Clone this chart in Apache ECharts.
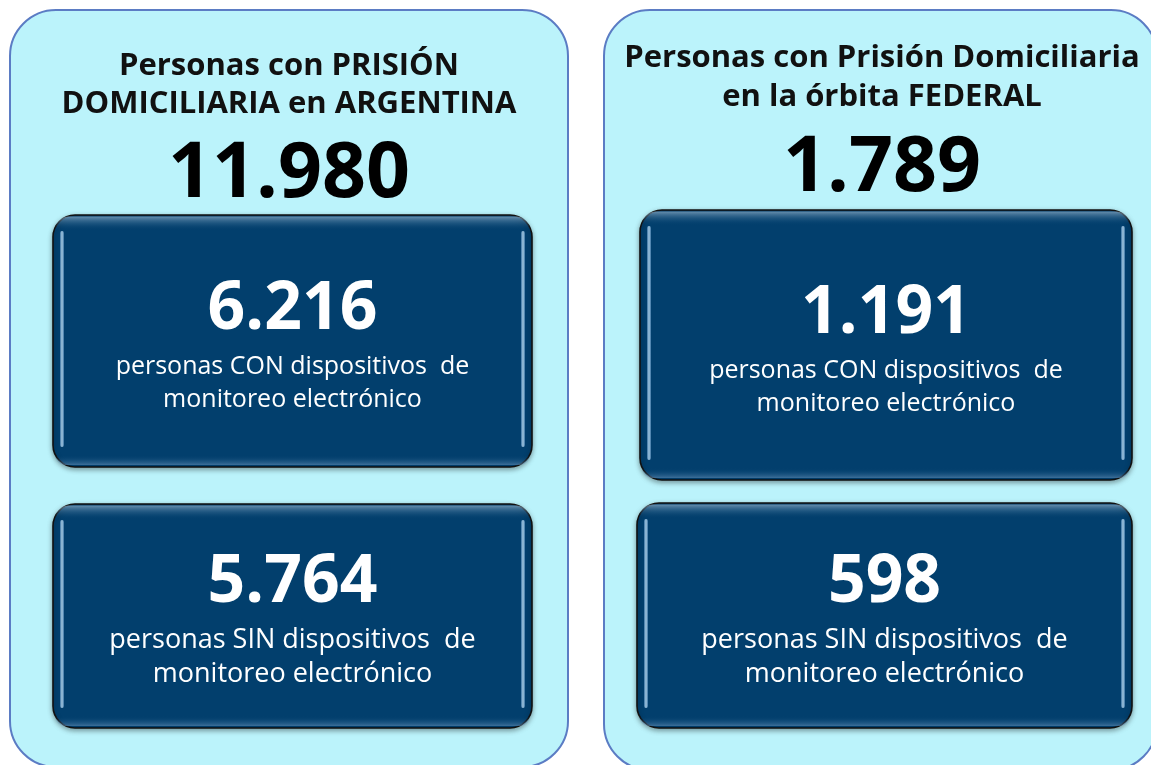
<!DOCTYPE html>
<html>
<head>
<meta charset="utf-8">
<script src="https://cdn.jsdelivr.net/npm/echarts@6/dist/echarts.min.js"></script>
<style>
  html, body { margin: 0; padding: 0; background: #fff; }
  #chart { width: 1151px; height: 765px; }
</style>
</head>
<body>
<div id="chart"></div>
<script>
// datos
var panelTitles = [
  ['Personas con PRISIÓN', 'DOMICILIARIA en ARGENTINA'],
  ['Personas con Prisión Domiciliaria', 'en la órbita FEDERAL']
];
var totals = ['11.980', '1.789'];
var conDispositivo = ['6.216', '1.191'];
var sinDispositivo = ['5.764', '598'];
var conLabel = ['personas CON dispositivos  de', 'monitoreo electrónico'];
var sinLabel = ['personas SIN dispositivos  de', 'monitoreo electrónico'];

var FONT = '"Open Sans", "Noto Sans", sans-serif';

// layout de cada panel
var panels = [
  { x: 10, y: 10, w: 558, h: 757, cx: 289, titleY: [66, 104], totalY: 175,
    boxes: [{ x: 53, y: 215, w: 479, h: 252, numY: 310, fs: 25, gap: 33 },
            { x: 53, y: 504, w: 479, h: 224, numY: 583, fs: 27, gap: 34 }] },
  { x: 604, y: 10, w: 553, h: 760, cx: 882, titleY: [58, 97], totalY: 169,
    boxes: [{ x: 640, y: 210, w: 492, h: 270, numY: 314, fs: 25, gap: 33 },
            { x: 637, y: 503, w: 495, h: 225, numY: 583, fs: 27, gap: 34 }] }
];

function glossBox(b, num, lines) {
  var els = [];
  var cx = b.x + b.w / 2;
  els.push({
    type: 'rect',
    shape: { x: b.x, y: b.y, width: b.w, height: b.h, r: 22 },
    style: { fill: '#023f6d', stroke: '#111', lineWidth: 1.6,
      shadowBlur: 5, shadowOffsetY: 2, shadowColor: 'rgba(0,0,0,0.35)' }
  });
  // brillo superior
  els.push({
    type: 'rect',
    shape: { x: b.x + 2, y: b.y + 1.5, width: b.w - 4, height: 14, r: [20, 20, 0, 0] },
    style: {
      fill: new echarts.graphic.LinearGradient(0, 0, 0, 1, [
        { offset: 0, color: 'rgba(170,200,225,0.6)' },
        { offset: 1, color: 'rgba(2,63,109,0)' }
      ])
    }
  });
  // brillo inferior
  els.push({
    type: 'rect',
    shape: { x: b.x + 2, y: b.y + b.h - 12, width: b.w - 4, height: 10, r: [0, 0, 20, 20] },
    style: {
      fill: new echarts.graphic.LinearGradient(0, 0, 0, 1, [
        { offset: 0, color: 'rgba(2,63,109,0)' },
        { offset: 1, color: 'rgba(120,160,200,0.5)' }
      ])
    }
  });
  // franjas laterales
  [b.x + 7, b.x + b.w - 11].forEach(function (sx) {
    els.push({
      type: 'rect',
      shape: { x: sx, y: b.y + 16, width: 4, height: b.h - 36, r: 2 },
      style: {
        fill: new echarts.graphic.LinearGradient(1, 0, 0, 0, [
          { offset: 0, color: 'rgba(120,170,215,0.5)' },
          { offset: 0.5, color: 'rgba(200,230,250,0.85)' },
          { offset: 1, color: 'rgba(120,170,215,0.5)' }
        ])
      }
    });
  });
  els.push({
    type: 'text',
    style: { text: num, x: cx, y: b.numY, align: 'center', verticalAlign: 'middle',
      fill: '#fff', font: 'bold 66px ' + FONT }
  });
  lines.forEach(function (t, i) {
    els.push({
      type: 'text',
      style: { text: t, x: cx, y: b.numY + 57 + i * b.gap, align: 'center', verticalAlign: 'middle',
        fill: '#fff', font: b.fs + 'px ' + FONT }
    });
  });
  return els;
}

var elements = [];
panels.forEach(function (p, i) {
  elements.push({
    type: 'rect',
    shape: { x: p.x, y: p.y, width: p.w, height: p.h, r: 46 },
    style: { fill: '#bbf3fb', stroke: '#5b7cc4', lineWidth: 2 }
  });
  panelTitles[i].forEach(function (t, j) {
    elements.push({
      type: 'text',
      style: { text: t, x: p.cx, y: p.titleY[j], align: 'center', verticalAlign: 'middle',
        fill: '#111', font: 'bold 31px ' + FONT }
    });
  });
  elements.push({
    type: 'text',
    style: { text: totals[i], x: p.cx, y: p.totalY, align: 'center', verticalAlign: 'middle',
      fill: '#000', font: 'bold 77px ' + FONT }
  });
  elements = elements.concat(glossBox(p.boxes[0], conDispositivo[i], conLabel));
  elements = elements.concat(glossBox(p.boxes[1], sinDispositivo[i], sinLabel));
});

var chart = echarts.init(document.getElementById('chart'));
chart.setOption({
  animation: false,
  graphic: { elements: elements }
});
</script>
</body>
</html>
